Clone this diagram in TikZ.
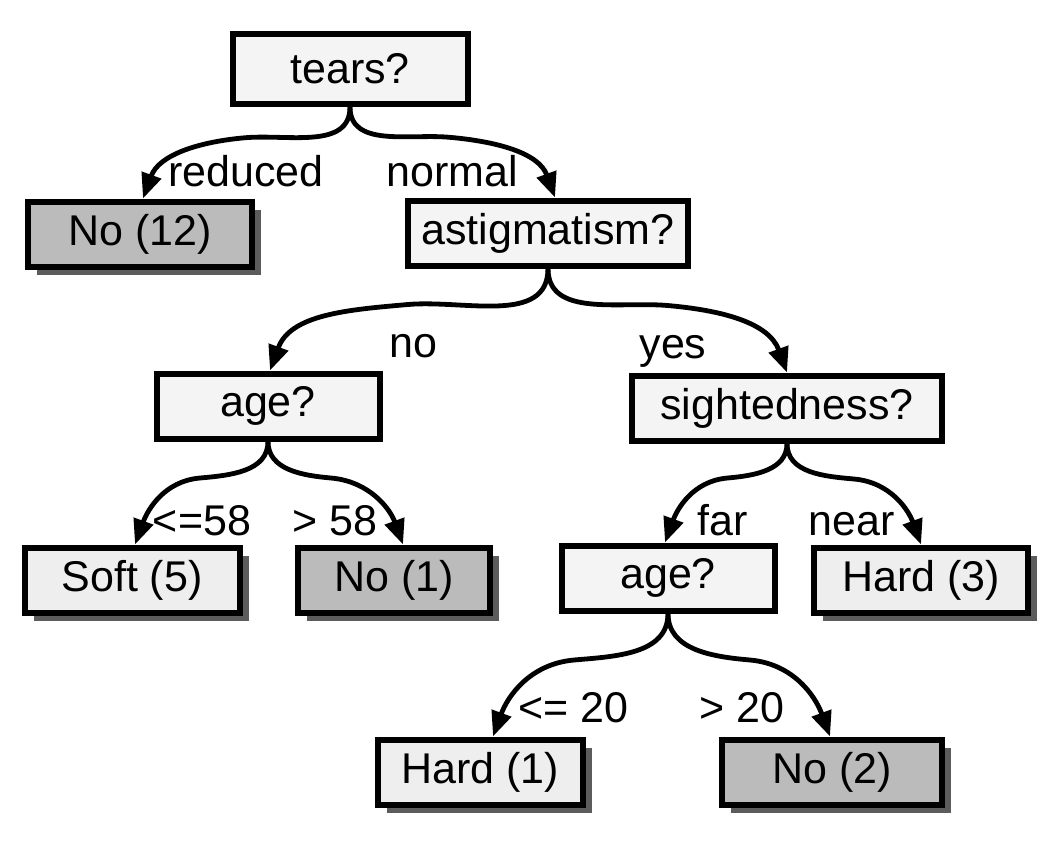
\documentclass[tikz,border=0pt]{standalone}
\usepackage{fontspec}
\setmainfont{Liberation Sans}
\usetikzlibrary{arrows.meta,shadows,calc}
\definecolor{testgray}{HTML}{F4F4F4}
\definecolor{softgray}{HTML}{EEEEEE}
\definecolor{nogray}{HTML}{BBBBBB}
\definecolor{shadowgray}{HTML}{5C5C5C}
\begin{document}
\begin{tikzpicture}[x=0.5pt, y=-0.5pt,
  font=\fontsize{21.5}{25}\selectfont,
  test/.style={draw, line width=3pt, fill=testgray, minimum height=32.5pt, inner sep=0pt},
  leaf/.style={test, drop shadow={shadow xshift=4.5pt, shadow yshift=-4pt, fill=shadowgray, opacity=1}},
  lensleaf/.style={leaf, fill=softgray},
  noleaf/.style={leaf, fill=nogray},
  edge/.style={line width=2.4pt, -{Triangle[length=12.5pt,width=10pt]}},
  lbl/.style={inner sep=0pt, anchor=base}]

\useasboundingbox (0,0) rectangle (1052,840);

% tests
\node[test, minimum width=117.5pt, minimum height=35pt] (tears) at (350,69) {tears?};
\node[test, minimum width=140pt] (astig) at (548,233) {astigmatism?};
\node[test, minimum width=111.5pt] (ageA) at (268,406) {age?};
\node[test, minimum width=155pt] (sight) at (787,408) {sightedness?};
\node[test, minimum width=106.5pt] (ageB) at (668,578) {age?};

% leaves
\node[noleaf, minimum width=112pt] (no12) at (140,234) {No (12)};
\node[lensleaf, minimum width=107.5pt] (soft5) at (132,580) {Soft (5)};
\node[noleaf, minimum width=96pt] (no1) at (394,580) {No (1)};
\node[lensleaf, minimum width=107pt] (hard3) at (921,580) {Hard (3)};
\node[lensleaf, minimum width=102.5pt] (hard1) at (480,772) {Hard (1)};
\node[noleaf, minimum width=110pt] (no2) at (832,772) {No (2)};

% branches
\draw[edge] (tears.south) to[out=-90,in=5] ($(tears.south)!.5!(no12.north)+(0,-15)$) to[out=185,in=70] ([xshift=1.5pt]no12.north);
\draw[edge] (tears.south) to[out=-90,in=175] ($(tears.south)!.5!(astig.north)+(0,-15)$) to[out=-5,in=110] ([xshift=3.5pt]astig.north);
\draw[edge] (astig.south) to[out=-90,in=5] ($(astig.south)!.5!(ageA.north)+(0,-15)$) to[out=185,in=70] ([xshift=1pt]ageA.north);
\draw[edge] (astig.south) to[out=-90,in=175] ($(astig.south)!.5!(sight.north)+(0,-15)$) to[out=-5,in=110] (sight.north);
\draw[edge] (ageA.south) to[out=-90,in=5] ($(ageA.south)!.5!(soft5.north)+(0,-15)$) to[out=185,in=70] ([xshift=1.5pt]soft5.north);
\draw[edge] (ageA.south) to[out=-90,in=175] ($(ageA.south)!.5!(no1.north)+(0,-15)$) to[out=-5,in=110] ([xshift=4.5pt]no1.north);
\draw[edge] (sight.south) to[out=-90,in=5] ($(sight.south)!.5!(ageB.north)+(0,-15)$) to[out=185,in=70] ([xshift=-1.5pt]ageB.north);
\draw[edge] (sight.south) to[out=-90,in=175] ($(sight.south)!.5!(hard3.north)+(0,-15)$) to[out=-5,in=110] (hard3.north);
\draw[edge] (ageB.south) to[out=-90,in=5] ($(ageB.south)!.5!(hard1.north)+(0,-15)$) to[out=185,in=70] ([xshift=6.5pt]hard1.north);
\draw[edge] (ageB.south) to[out=-90,in=175] ($(ageB.south)!.5!(no2.north)+(0,-15)$) to[out=-5,in=110] ([xshift=-1pt]no2.north);

% branch labels
\node[lbl] (lreduced) at (246,186) {reduced};
\node[lbl] (lnormal) at (452,186) {normal};
\node[lbl] (lno) at (413,357) {no};
\node[lbl] (lyes) at (673,358) {yes};
\node[lbl] (lyoung) at (202,535) {<=58};
\node[lbl] (lold) at (335,535) {> 58};
\node[lbl] (lfar) at (723,535) {far};
\node[lbl] (lnear) at (852,535) {near};
\node[lbl] (lle) at (573,722) {<= 20};
\node[lbl] (lgt) at (742,722) {> 20};

\end{tikzpicture}
\end{document}
